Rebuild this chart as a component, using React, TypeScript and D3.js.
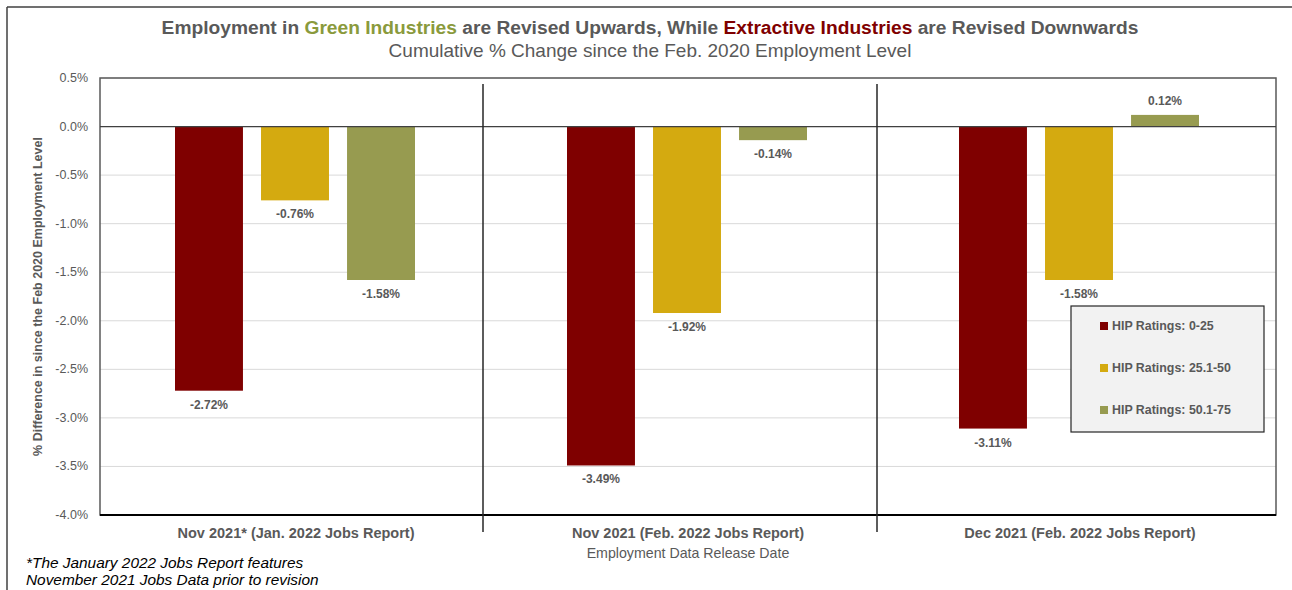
import React from "react";
import * as d3 from "d3";

const categories = [
  "Nov 2021* (Jan. 2022 Jobs Report)",
  "Nov 2021 (Feb. 2022 Jobs Report)",
  "Dec 2021 (Feb. 2022 Jobs Report)",
];
const seriesNames = ["HIP Ratings: 0-25", "HIP Ratings: 25.1-50", "HIP Ratings: 50.1-75"];
const seriesColors = ["#7f0000", "#d4aa10", "#979b50"];
const hip0to25 = [-2.72, -3.49, -3.11];
const hip25to50 = [-0.76, -1.92, -1.58];
const hip50to75 = [-1.58, -0.14, 0.12];
const yTicks = [0.5, 0.0, -0.5, -1.0, -1.5, -2.0, -2.5, -3.0, -3.5, -4.0];

const FONT = "'Liberation Sans', Arial, sans-serif";
const fmt = (f: string) => (v: number) => d3.format(f)(v).replace("\u2212", "-");

export default function App() {
  const W = 1292, H = 590;
  const left = 100, right = 1276, top = 78, bottom = 515;
  const series = [hip0to25, hip25to50, hip50to75];

  const x = d3.scaleBand<string>().domain(categories).range([left, right]).paddingInner(0).paddingOuter(0);
  const x1 = d3.scaleBand<number>().domain([0, 1, 2]).range([75, x.bandwidth() - 77]).paddingInner(0.21);
  const y = d3.scaleLinear().domain([-4, 0.5]).range([bottom, top]);

  const grey = "#595959";

  return (
    <svg width={W} height={H} style={{ position: "absolute", left: 0, top: 0, background: "#fff" }}>
      <rect x={0} y={0} width={W} height={H} fill="#fff" />
      {/* outer frame */}
      <line x1={7} y1={7} x2={W} y2={7} stroke="#404040" strokeWidth={1.5} />
      <line x1={7} y1={7} x2={7} y2={H} stroke="#404040" strokeWidth={1.5} />

      {/* title */}
      <text x={650} y={34} textAnchor="middle" fontFamily={FONT} fontSize={19.2} fontWeight="bold" fill={grey}>
        <tspan>Employment in </tspan>
        <tspan fill="#8a9a3c">Green Industries</tspan>
        <tspan> are Revised Upwards, While </tspan>
        <tspan fill="#7f0000">Extractive Industries</tspan>
        <tspan> are Revised Downwards</tspan>
      </text>
      <text x={650} y={57} textAnchor="middle" fontFamily={FONT} fontSize={19} fill={grey}>
        Cumulative % Change since the Feb. 2020 Employment Level
      </text>

      {/* gridlines */}
      {yTicks.map((t) => (
        <line key={"g" + t} x1={left} x2={right} y1={y(t)} y2={y(t)} stroke="#d9d9d9" strokeWidth={1} />
      ))}
      {/* y tick labels */}
      {yTicks.map((t) => (
        <text key={"t" + t} x={88} y={y(t) + 4} textAnchor="end" fontFamily={FONT} fontSize={12.5} fill={grey}>
          {fmt(".1f")(t)}%
        </text>
      ))}

      {/* bars */}
      {categories.map((c, ci) =>
        series.map((s, si) => {
          const v = s[ci];
          const bx = (x(c) as number) + (x1(si) as number);
          const y0 = y(Math.max(0, v));
          const y1v = y(Math.min(0, v));
          return (
            <g key={c + si}>
              <rect x={bx} y={y0} width={x1.bandwidth()} height={y1v - y0} fill={seriesColors[si]} />
              <text
                x={bx + x1.bandwidth() / 2}
                y={v < 0 ? y(v) + 18 : y(v) - 10}
                textAnchor="middle"
                fontFamily={FONT}
                fontSize={12}
                fontWeight="bold"
                fill={grey}
              >
                {fmt(".2f")(v)}%
              </text>
            </g>
          );
        })
      )}

      {/* plot border */}
      <rect x={left} y={top} width={right - left} height={bottom - top} fill="none" stroke="#595959" strokeWidth={1.5} />
      <line x1={left} x2={right} y1={y(0)} y2={y(0)} stroke="#404040" strokeWidth={1.2} />
      <line x1={left} x2={right} y1={bottom} y2={bottom} stroke="#000" strokeWidth={2} />

      {/* separators */}
      {categories.slice(1).map((c, i) => (
        <line
          key={"sep" + c}
          x1={(x(c) as number) - (i === 0 ? 9 : 7)}
          x2={(x(c) as number) - (i === 0 ? 9 : 7)}
          y1={84}
          y2={532}
          stroke="#262626"
          strokeWidth={1.5}
        />
      ))}

      {/* category labels */}
      {categories.map((c) => (
        <text key={"c" + c} x={(x(c) as number) + x.bandwidth() / 2} y={538} textAnchor="middle" fontFamily={FONT} fontSize={14.5} fontWeight="bold" fill={grey}>
          {c}
        </text>
      ))}
      <text x={688} y={558} textAnchor="middle" fontFamily={FONT} fontSize={14.2} fill={grey}>
        Employment Data Release Date
      </text>

      {/* y axis title */}
      <text
        transform={`translate(42, ${(top + bottom) / 2}) rotate(-90)`}
        textAnchor="middle"
        fontFamily={FONT}
        fontSize={12.5}
        fontWeight="bold"
        fill={grey}
      >
        % Difference in since the Feb 2020 Employment Level
      </text>

      {/* legend */}
      <rect x={1071} y={306} width={193} height={126} fill="#f2f2f2" stroke="#262626" strokeWidth={1.2} />
      {seriesNames.map((n, i) => (
        <g key={n}>
          <rect x={1100} y={322 + i * 42} width={8} height={8} fill={seriesColors[i]} />
          <text x={1112} y={330 + i * 42} fontFamily={FONT} fontSize={12.4} fontWeight="bold" fill={grey}>
            {n}
          </text>
        </g>
      ))}

      {/* footnote */}
      <text x={26} y={568} fontFamily={FONT} fontSize={15.4} fontStyle="italic" fill="#000">
        *The January 2022 Jobs Report features
      </text>
      <text x={26} y={585} fontFamily={FONT} fontSize={15.4} fontStyle="italic" fill="#000">
        November 2021 Jobs Data prior to revision
      </text>
    </svg>
  );
}
